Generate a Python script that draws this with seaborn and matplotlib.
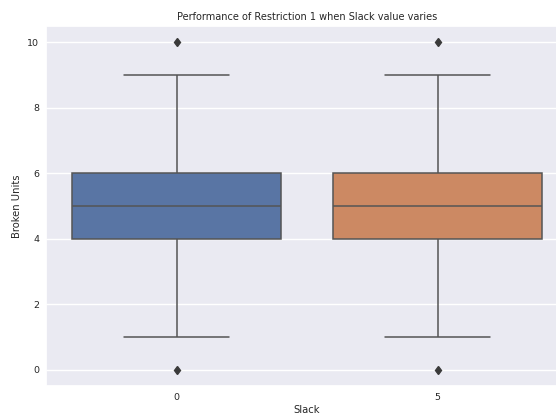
import matplotlib
matplotlib.use("Agg")
import matplotlib.pyplot as plt
import seaborn as sns
import pandas as pd

# Broken-unit counts observed for each Slack setting
slack_0 = [0, 1, 4, 4, 4, 5, 5, 5, 6, 6, 6, 9, 10]
slack_5 = [0, 1, 4, 4, 4, 5, 5, 5, 6, 6, 6, 9, 10]
slack_levels = ["0", "5"]

df = pd.DataFrame({
    "Slack": [slack_levels[0]] * len(slack_0) + [slack_levels[1]] * len(slack_5),
    "Broken Units": slack_0 + slack_5,
})

sns.set_theme(style="darkgrid")
plt.rcParams["font.family"] = ["DejaVu Sans"]

line_gray = "#555555"

fig = plt.figure(figsize=(5.56, 4.16), dpi=100)
ax = fig.add_axes([46 / 556, 30 / 416, 522 / 556, 360 / 416])

sns.boxplot(data=df, x="Slack", y="Broken Units", hue="Slack",
            palette="deep", legend=False, ax=ax, width=0.8,
            linewidth=1.1, linecolor=line_gray,
            flierprops=dict(marker="d", markersize=4.5,
                            markerfacecolor="#3a3a3a",
                            markeredgecolor="#3a3a3a"))

ax.set_title("Performance of Restriction 1 when Slack value varies",
             fontsize=7.0, pad=4)
ax.set_xlabel("Slack", fontsize=7.2, labelpad=2)
ax.set_ylabel("Broken Units", fontsize=7.2, labelpad=4)
ax.tick_params(labelsize=6.8, length=0, pad=5)
ax.set_yticks([0, 2, 4, 6, 8, 10])

fig.savefig("out.png", dpi=100)
